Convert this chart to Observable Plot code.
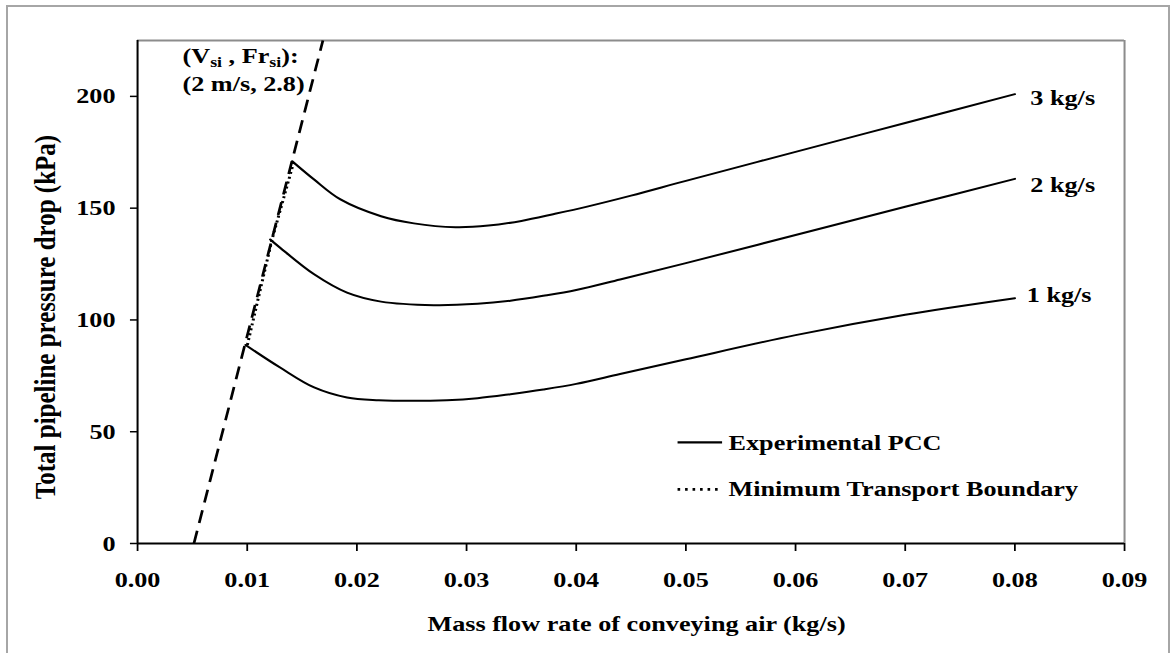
<!DOCTYPE html>
<html><head><meta charset="utf-8">
<script src="https://cdn.jsdelivr.net/npm/d3@7"></script>
<script src="https://cdn.jsdelivr.net/npm/@observablehq/plot@0.6"></script>
<style>
html,body{margin:0;padding:0;background:#fff;}
#wrap{position:relative;width:1171px;height:653px;overflow:hidden;background:#fff;}
#chart{position:absolute;left:0;top:0;}
#frame{position:absolute;left:6px;top:5px;width:1160px;height:700px;border:2px solid #a6a6a6;pointer-events:none;}
</style></head><body>
<div id="wrap"><div id="chart"></div><div id="frame"></div></div>
<script>
// ---- data ----
const xTicks = [0, 0.01, 0.02, 0.03, 0.04, 0.05, 0.06, 0.07, 0.08, 0.09];
const yTicks = [0, 50, 100, 150, 200];
const seriesNames = ["1 kg/s", "2 kg/s", "3 kg/s"];
const air1 = [0.00985, 0.0130, 0.0161, 0.0191, 0.0220, 0.0250, 0.0282, 0.0310, 0.0340, 0.0370, 0.0400, 0.0440, 0.0500, 0.0600, 0.0700, 0.0800];
const dp1  = [88.8, 78.7, 69.8, 65.3, 64.1, 63.8, 64.1, 65.0, 66.8, 68.9, 71.4, 75.8, 82.4, 93.2, 102.3, 109.7];
const air2 = [0.0121, 0.0130, 0.0161, 0.0191, 0.0222, 0.0270, 0.0310, 0.0340, 0.0370, 0.0400, 0.0440, 0.0500, 0.0600, 0.0700, 0.0800];
const dp2  = [136.0, 132.3, 120.4, 112.2, 108.2, 106.6, 107.2, 108.6, 110.8, 113.4, 118.1, 125.4, 138.0, 150.6, 163.1];
const air3 = [0.0141, 0.0161, 0.0185, 0.0222, 0.0252, 0.0290, 0.0320, 0.0350, 0.0380, 0.0410, 0.0450, 0.0500, 0.0600, 0.0700, 0.0800];
const dp3  = [171.0, 162.8, 153.9, 146.4, 143.2, 141.5, 142.2, 144.3, 147.4, 150.7, 155.6, 162.2, 175.2, 188.1, 201.0];
// (Vsi, Frsi) = (2 m/s, 2.8) line
const boundaryAir = [0.00514, 0.0169];
const boundaryDp  = [0, 225];
// minimum transport boundary (dotted): start points of the three curves
const mtbAir = [air1[0], air2[0], air3[0]];
const mtbDp  = [dp1[0], dp2[0], dp3[0]];
const legendLabels = ["Experimental PCC", "Minimum Transport Boundary"];
const xTitle = "Mass flow rate of conveying air (kg/s)";
const yTitle = "Total pipeline pressure drop (kPa)";
const noteLine1 = "(Vsi , Frsi):";
const noteLine2 = "(2 m/s, 2.8)";

// ---- tables ----
const airs = [air1, air2, air3], dps = [dp1, dp2, dp3];
const curves = seriesNames.flatMap((s, k) => airs[k].map((a, i) => ({series: s, air: a, dp: dps[k][i]})));
const ends = seriesNames.map((s, k) => ({series: s, air: airs[k][airs[k].length - 1], dp: dps[k][dps[k].length - 1]}));
const boundary = boundaryAir.map((a, i) => ({air: a, dp: boundaryDp[i]}));
const mtb = mtbAir.map((a, i) => ({air: a, dp: mtbDp[i]}));

const S = 1.19;          // horizontal stretch of the original picture
const W = 984;           // 1171 / S
const font = "'Liberation Serif','Times New Roman',serif";

const legX0 = 0.04924, legX1 = 0.05330, legTX = 0.05389;
const legY = [45.2, 24.2];

const plot = Plot.plot({
  width: W, height: 653,
  marginLeft: 115.1, marginRight: 39.5, marginTop: 40, marginBottom: 110,
  x: {domain: [0, 0.09]},
  y: {domain: [0, 225]},
  style: {fontFamily: font, fontWeight: "bold", fontSize: "22px", background: "transparent", color: "black", overflow: "visible"},
  marks: [
    Plot.ruleY([225], {stroke: "#8c8c8c", strokeWidth: 2}),
    Plot.ruleX([0.09], {stroke: "#8c8c8c", strokeWidth: 1.7}),
    Plot.axisY({ticks: yTicks, tickSize: 5.9, tickPadding: 12.6, fontSize: 22, label: null, strokeWidth: 1.5}),
    Plot.axisX({ticks: xTicks, tickFormat: d => d.toFixed(2), tickSize: 8, tickPadding: 20, fontSize: 22, label: null, strokeWidth: 1.5}),
    Plot.ruleX([0], {strokeWidth: 1.7}),
    Plot.ruleY([0], {strokeWidth: 2}),
    Plot.line(boundary, {x: "air", y: "dp", stroke: "black", strokeWidth: 2.3, strokeDasharray: "13,8", strokeLinecap: "butt", clip: true}),
    Plot.line(mtb, {x: "air", y: "dp", stroke: "black", strokeWidth: 2.5, strokeDasharray: "2,3", strokeLinecap: "butt", dx: 1.5}),
    Plot.line(curves, {x: "air", y: "dp", z: "series", stroke: "black", strokeWidth: 2, curve: "catmull-rom"}),
    Plot.text(ends.filter(d => d.series === "3 kg/s"), {x: "air", y: "dp", text: "series", textAnchor: "start", dx: 13, dy: 3.5, fontSize: 22}),
    Plot.text(ends.filter(d => d.series === "2 kg/s"), {x: "air", y: "dp", text: "series", textAnchor: "start", dx: 13, dy: 6, fontSize: 22}),
    Plot.text(ends.filter(d => d.series === "1 kg/s"), {x: "air", y: "dp", text: "series", textAnchor: "start", dx: 10, dy: -3.5, fontSize: 22}),
    Plot.text([{t: noteLine1}], {x: () => 0.0041, y: () => 214.9, text: "t", textAnchor: "start", lineAnchor: "bottom", fontSize: 22}),
    Plot.text([{t: noteLine2}], {x: () => 0.0041, y: () => 202.2, text: "t", textAnchor: "start", lineAnchor: "bottom", fontSize: 22}),
    // legend
    Plot.line([{a: legX0, p: legY[0]}, {a: legX1, p: legY[0]}], {x: "a", y: "p", stroke: "black", strokeWidth: 2.2, strokeLinecap: "butt"}),
    Plot.line([{a: legX0, p: legY[1]}, {a: legX1, p: legY[1]}], {x: "a", y: "p", stroke: "black", strokeWidth: 2.6, strokeDasharray: "2.2,4.1", strokeLinecap: "butt"}),
    Plot.text(legendLabels.map((t, i) => ({t, p: legY[i]})), {x: () => legTX, y: "p", text: "t", textAnchor: "start", fontSize: 22}),
    // axis titles
    Plot.text([xTitle], {frameAnchor: "bottom", textAnchor: "middle", dx: 4.6, dy: 87, lineAnchor: "bottom", fontSize: 22}),
    Plot.text([yTitle], {frameAnchor: "left", textAnchor: "middle", rotate: -90, dx: -77.3, dy: 25, fontSize: 25})
  ]
});
plot.style.transformOrigin = "0 0";
plot.style.transform = `scaleX(${S})`;
plot.style.maxWidth = "none";
document.getElementById("chart").appendChild(plot);

// subscripts in the (Vsi , Frsi) note
const t = d3.select(plot).selectAll("text").filter(function() { return this.textContent === noteLine1; });
t.text(null);
const parts = [["(V", false], ["si", true], [" , Fr", false], ["si", true], ["):", false]];
let sub = false;
for (const [s, isSub] of parts) {
  const ts = t.append("tspan").text(s);
  if (isSub) { ts.attr("font-size", 15); if (!sub) { ts.attr("dy", 4); sub = true; } }
  else if (sub) { ts.attr("dy", -4); sub = false; }
}
</script>
</body></html>
